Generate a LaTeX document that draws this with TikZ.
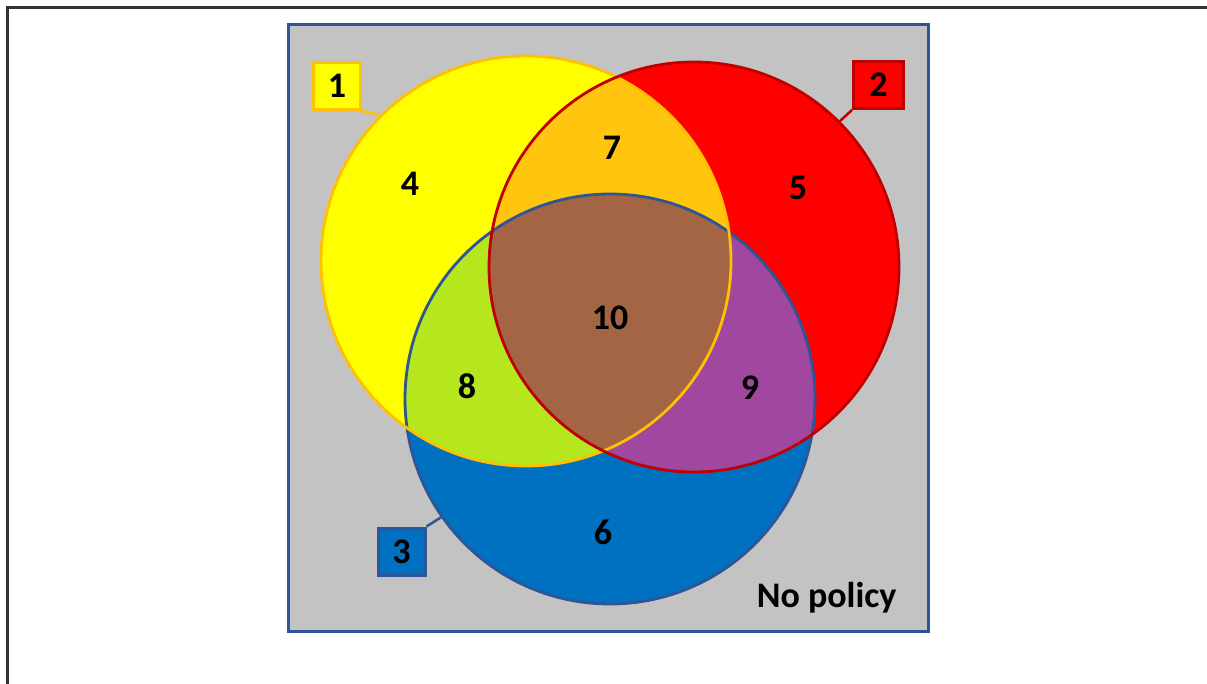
\documentclass[tikz,border=0pt]{standalone}
\usepackage{fontspec}
\setmainfont{Carlito}
\usepackage{tikz}
\usetikzlibrary{positioning}

\definecolor{bggray}{RGB}{195,195,195}
\definecolor{rimblue}{RGB}{47,85,151}
\definecolor{setyellow}{RGB}{255,255,0}
\definecolor{rimyellow}{RGB}{255,192,0}
\definecolor{setred}{RGB}{255,0,0}
\definecolor{rimred}{RGB}{192,0,0}
\definecolor{setblue}{RGB}{0,112,192}
\definecolor{mixorange}{RGB}{255,197,15}
\definecolor{mixlime}{RGB}{182,230,29}
\definecolor{mixpurple}{RGB}{160,72,160}
\definecolor{mixbrown}{RGB}{163,101,68}

\begin{document}
\begin{tikzpicture}[
    x=1pt, y=-1pt,
    setrim/.style={circle, minimum size=410pt, inner sep=0pt, line width=2.8pt},
    setlabel/.style={rectangle, minimum size=47pt, inner sep=0pt, line width=3pt,
        font=\fontsize{36}{42}\selectfont\bfseries},
    regionnum/.style={font=\fontsize{36}{42}\selectfont\bfseries}
    ]
        \useasboundingbox (0,0) rectangle (1207,684);
        %Frame
        \draw[line width=3pt, draw=black!80] (7,684) -- (7,8) -- (1207,8);

        %Background
        \node[rectangle, draw=rimblue, fill=bggray, line width=3pt,
              minimum width=640pt, minimum height=606pt]
            (bg) at (608,328) {};

        %Centres
        \coordinate (o1) at (526,261);
        \coordinate (o2) at (694,267);
        \coordinate (o3) at (610,399);

        %Fills
        \fill[setyellow] (o1) circle[radius=205pt];
        \fill[setred] (o2) circle[radius=205pt];
        \fill[setblue] (o3) circle[radius=205pt];
        \begin{scope}
            \clip (o1) circle[radius=205pt];
            \fill[mixorange] (o2) circle[radius=205pt];
            \fill[mixlime] (o3) circle[radius=205pt];
        \end{scope}
        \begin{scope}
            \clip (o2) circle[radius=205pt];
            \fill[mixpurple] (o3) circle[radius=205pt];
            \clip (o1) circle[radius=205pt];
            \fill[mixbrown] (o3) circle[radius=205pt];
        \end{scope}

        %Rims
        \node[setrim, draw=rimblue] (c3) at (o3) {};
        \node[setrim, draw=rimyellow] (c1) at (o1) {};
        \node[setrim, draw=rimred] (c2) at (o2) {};

        %Set labels
        \node[setlabel, draw=rimyellow, fill=setyellow]
            (lab1) at (337,86) {1};
        \node[setlabel, draw=rimred, fill=setred, minimum width=50pt]
            (lab2) at (878.5,85) {2};
        \node[setlabel, draw=rimblue, fill=setblue]
            (lab3) at (401.5,551.5) {3};

        %Lines
        \draw[rimyellow, line width=2.5pt] (lab1.south east) -- (c1.135);
        \draw[rimred, line width=2.5pt] (lab2.south west) -- (c2.45);
        \draw[rimblue, line width=2.5pt] (lab3.north east) -- (c3.215);

        %Regions
        \node[regionnum] (n4) at (410,184) {4};
        \node[regionnum] (n5) at (798,188) {5};
        \node[regionnum] (n6) at (603,532) {6};
        \node[regionnum] (n7) at (612,148) {7};
        \node[regionnum] (n8) at (467,386) {8};
        \node[regionnum] (n9) at (750,388) {9};
        \node[regionnum] (n10) at (610,318) {10};
        \node[regionnum, anchor=base east] (none) at (900,607) {No policy};
\end{tikzpicture}
\end{document}
